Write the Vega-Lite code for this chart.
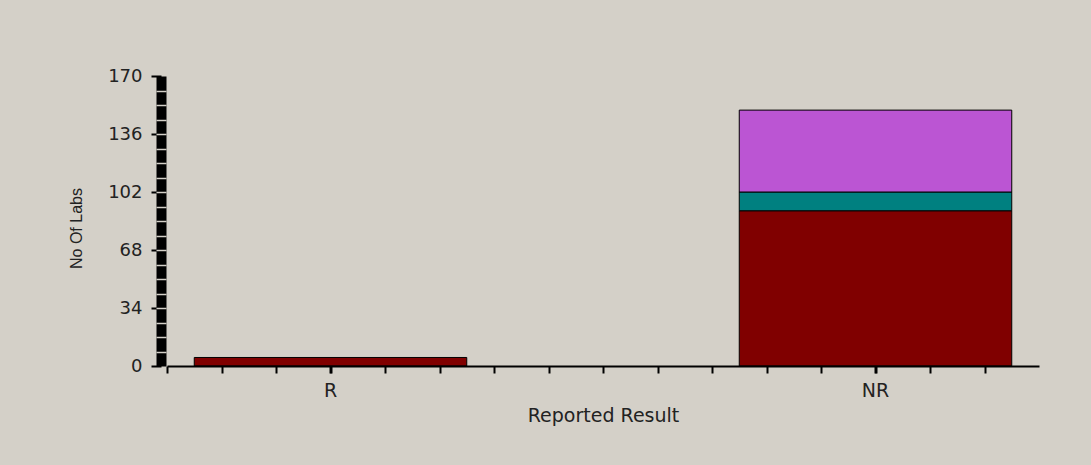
{
  "$schema": "https://vega.github.io/schema/vega-lite/v6.json",
  "width": 872,
  "height": 290,
  "autosize": "none",
  "padding": {"left": 167, "top": 76, "right": 52, "bottom": 99},
  "background": "#d4d0c8",
  "config": {
    "view": {"stroke": null},
    "axis": {"labelFont": "DejaVu Sans", "titleFont": "DejaVu Sans", "labelColor": "#222222", "titleColor": "#222222", "grid": false, "titleFontWeight": "normal"}
  },
  "data": {
    "values": [
      {"result": "R", "series": "Series 1", "labs": 5, "rank": 1},
      {"result": "NR", "series": "Series 1", "labs": 91, "rank": 1},
      {"result": "NR", "series": "Series 2", "labs": 11, "rank": 2},
      {"result": "NR", "series": "Series 3", "labs": 48, "rank": 3}
    ]
  },
  "layer": [
    {
      "mark": {"type": "bar", "stroke": "black", "strokeWidth": 1},
      "encoding": {
        "x": {
          "field": "result", "type": "nominal", "sort": ["R", "NR"],
          "scale": {"paddingInner": 0.5, "paddingOuter": 0.05},
          "axis": {"title": "Reported Result", "labelAngle": 0, "domainColor": "black", "domainWidth": 2, "tickColor": "black", "tickWidth": 2, "tickSize": 7, "labelPadding": 8, "labelFontSize": 19, "titleFontSize": 19, "titlePadding": 6, "zindex": 1}
        },
        "y": {
          "field": "labs", "type": "quantitative", "stack": "zero",
          "scale": {"domain": [0, 170], "nice": false},
          "axis": {"title": "No Of Labs", "values": [0, 34, 68, 102, 136, 170], "offset": 6, "domainColor": "black", "domainWidth": 10, "tickColor": "black", "tickWidth": 2, "tickSize": 10, "labelPadding": 9, "labelFontSize": 18, "titleFont": "Liberation Sans", "titleFontSize": 16, "titlePadding": 23, "titleY": 152, "zindex": 1}
        },
        "color": {
          "field": "series", "type": "nominal",
          "scale": {"domain": ["Series 1", "Series 2", "Series 3"], "range": ["#800000", "#008080", "#bb55d3"]},
          "legend": null
        },
        "order": {"field": "rank", "type": "quantitative"}
      }
    },
    {
      "mark": {"type": "point", "opacity": 0},
      "encoding": {
        "x": {
          "datum": 0, "type": "quantitative",
          "scale": {"domain": [0, 16], "nice": false, "zero": false},
          "axis": {"orient": "bottom", "title": null, "labels": false, "domain": false, "values": [0, 1, 2, 3, 4, 5, 6, 7, 8, 9, 10, 11, 12, 13, 14, 15], "tickColor": "black", "tickWidth": 2, "tickSize": 7, "zindex": 1}
        },
        "y": {
          "datum": 0, "type": "quantitative",
          "scale": {"domain": [0, 170], "nice": false},
          "axis": {"orient": "left", "title": null, "labels": false, "domain": false, "offset": 1, "values": [8.5, 17, 25.5, 34, 42.5, 51, 59.5, 68, 76.5, 85, 93.5, 102, 110.5, 119, 127.5, 136, 144.5, 153, 161.5], "tickColor": "#d4d0c8", "tickWidth": 1.5, "tickSize": 10, "zindex": 2}
        }
      }
    }
  ],
  "resolve": {"scale": {"x": "independent", "y": "independent"}}
}
